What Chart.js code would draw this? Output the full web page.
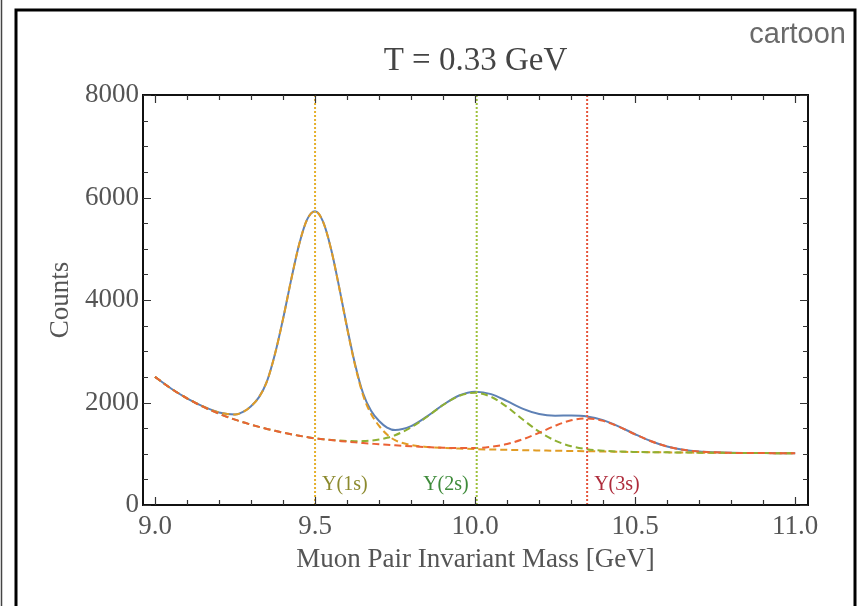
<!DOCTYPE html>
<html>
<head>
<meta charset="utf-8">
<script src="https://cdn.jsdelivr.net/npm/chart.js@4.4.1/dist/chart.umd.min.js"></script>
<style>
  html, body { margin: 0; padding: 0; background: #fff; }
  #wrap { width: 860px; height: 606px; }
</style>
</head>
<body>
<div id="wrap"><canvas id="c" width="860" height="606"></canvas></div>
<script>
// ---- data ----
const massX = [9.00,9.05,9.10,9.15,9.20,9.25,9.275,9.30,9.325,9.35,9.375,9.40,9.425,9.45,9.475,9.50,9.525,9.55,9.575,9.60,9.625,9.65,9.675,9.70,9.725,9.75,9.80,9.85,9.90,9.95,10.00,10.05,10.10,10.15,10.20,10.25,10.30,10.35,10.40,10.45,10.50,10.55,10.60,10.65,10.70,10.75,10.80,10.85,10.90,10.95,11.00];

const totalCounts = [2500,2274,2082,1923,1805,1765,1816,1928,2105,2417,2950,3630,4383,5078,5568,5731,5528,4996,4261,3467,2748,2180,1838,1638,1512,1462,1538,1728,1953,2137,2212,2164,2027,1877,1776,1743,1745,1728,1656,1529,1380,1244,1142,1078,1043,1027,1018,1015,1013,1011,1010];

const ups1Counts = [2500,2274,2082,1923,1805,1765,1816,1928,2105,2417,2950,3630,4383,5078,5568,5730,5526,4992,4253,3453,2725,2142,1777,1545,1374,1264,1171,1134,1115,1102,1090,1083,1076,1070,1064,1059,1054,1050,1044,1039,1034,1030,1027,1024,1021,1019,1016,1014,1013,1011,1010];

const ups2Counts = [2500,2274,2082,1918,1780,1665,1616,1568,1525,1484,1447,1413,1381,1352,1325,1301,1285,1270,1259,1250,1245,1247,1258,1278,1312,1362,1513,1722,1951,2129,2190,2110,1912,1663,1431,1257,1147,1088,1058,1043,1035,1030,1027,1024,1021,1019,1016,1014,1013,1011,1010];

const ups3Counts = [2500,2274,2082,1918,1780,1665,1616,1568,1525,1484,1447,1413,1381,1352,1325,1300,1283,1266,1251,1236,1222,1209,1197,1185,1174,1164,1146,1130,1117,1110,1112,1137,1191,1284,1409,1545,1652,1690,1642,1525,1379,1244,1142,1078,1043,1027,1018,1015,1013,1011,1010];

const stateMasses = [9.50, 10.005, 10.35];
const stateLabels = ['Υ(1s)', 'Υ(2s)', 'Υ(3s)'];
const xTickValues = [9.0, 9.5, 10.0, 10.5, 11.0];
const yTickValues = [0, 2000, 4000, 6000, 8000];

// ---- styling ----
const BLUE = '#5E81B5', ORANGE = '#E19C24', GREEN = '#8FB032', RED = '#EB6235';
const lineColors = ['#E5B02C', '#9DC03A', '#E5533A'];
const labelColors = ['#8C8A2E', '#3E8B3A', '#AE2B3B'];
const SERIF = '"Liberation Serif", "DejaVu Serif", serif';

const pts = ys => massX.map((x, i) => ({ x: x, y: ys[i] }));

const datasets = [];
stateMasses.forEach((m, i) => {
  datasets.push({
    label: stateLabels[i] + ' line',
    data: [{ x: m, y: 0 }, { x: m, y: 8000 }],
    borderColor: lineColors[i], borderWidth: 2, borderDash: [2, 2],
    pointRadius: 0, showLine: true, fill: false
  });
});
const curve = (label, ys, color, dash) => ({
  label: label, data: pts(ys), borderColor: color, borderWidth: 2,
  borderDash: dash, pointRadius: 0, showLine: true, fill: false,
  cubicInterpolationMode: 'monotone'
});
datasets.push(curve('Υ(3s) + background', ups3Counts, RED, [7, 4]));
datasets.push(curve('Υ(2s) + background', ups2Counts, GREEN, [7, 4]));
datasets.push(curve('Υ(1s) + background', ups1Counts, ORANGE, [7, 4]));
datasets.push(curve('Total', totalCounts, BLUE, []));

const decor = {
  id: 'decor',
  beforeDraw(chart) {
    const ctx = chart.ctx;
    ctx.save();
    ctx.fillStyle = '#fff';
    ctx.fillRect(0, 0, chart.width, chart.height);
    ctx.strokeStyle = '#000';
    ctx.lineWidth = 3;
    ctx.beginPath();
    ctx.moveTo(16, 606); ctx.lineTo(16, 10); ctx.lineTo(855, 10); ctx.lineTo(855, 606);
    ctx.stroke();
    ctx.strokeStyle = '#444';
    ctx.lineWidth = 1.5;
    ctx.beginPath(); ctx.moveTo(1.5, 0); ctx.lineTo(1.5, 606); ctx.stroke();
    ctx.restore();
  },
  afterDraw(chart) {
    const { ctx, chartArea: a, scales } = chart;
    const x = scales.x, y = scales.y;
    ctx.save();
    // frame
    ctx.strokeStyle = '#111';
    ctx.lineWidth = 2;
    ctx.strokeRect(a.left, a.top, a.right - a.left, a.bottom - a.top);
    // inward ticks
    ctx.lineWidth = 1.2;
    ctx.strokeStyle = '#333';
    ctx.beginPath();
    for (let i = 0; i <= 20; i++) {
      const v = 9 + i * 0.1;
      const px = Math.round(x.getPixelForValue(v)) + 0.5;
      const len = (i % 5 === 0) ? 8 : 5;
      ctx.moveTo(px, a.bottom); ctx.lineTo(px, a.bottom - len);
      ctx.moveTo(px, a.top); ctx.lineTo(px, a.top + len);
    }
    for (let i = 0; i <= 16; i++) {
      const v = i * 500;
      const py = Math.round(y.getPixelForValue(v)) + 0.5;
      const len = (i % 4 === 0) ? 8 : 5;
      ctx.moveTo(a.left, py); ctx.lineTo(a.left + len, py);
      ctx.moveTo(a.right, py); ctx.lineTo(a.right - len, py);
    }
    ctx.stroke();

    // state labels
    ctx.font = '20px ' + SERIF;
    ctx.textBaseline = 'alphabetic';
    stateMasses.forEach((m, i) => {
      const px = x.getPixelForValue(m);
      const py = y.getPixelForValue(300);
      ctx.fillStyle = labelColors[i];
      if (i === 1) { ctx.textAlign = 'right'; ctx.fillText(stateLabels[i], px - 8, py); }
      else { ctx.textAlign = 'left'; ctx.fillText(stateLabels[i], px + 7, py); }
    });

    // title
    ctx.fillStyle = '#444';
    ctx.font = '33px ' + SERIF;
    ctx.textAlign = 'center';
    ctx.fillText('T = 0.33 GeV', (a.left + a.right) / 2, 70);

    // cartoon
    ctx.fillStyle = '#6a6a6a';
    ctx.font = '29px "Liberation Sans", Arial, sans-serif';
    ctx.textAlign = 'right';
    ctx.fillText('cartoon', 846, 43);

    // axis titles
    ctx.fillStyle = '#555';
    ctx.font = '27px ' + SERIF;
    ctx.textAlign = 'center';
    ctx.fillText('Muon Pair Invariant Mass [GeV]', (a.left + a.right) / 2, 567);
    ctx.translate(68, (a.top + a.bottom) / 2);
    ctx.rotate(-Math.PI / 2);
    ctx.fillText('Counts', 0, 0);
    ctx.restore();
  }
};

new Chart(document.getElementById('c'), {
  type: 'scatter',
  data: { datasets: datasets },
  options: {
    responsive: false,
    devicePixelRatio: 1,
    animation: false,
    layout: { padding: { top: 95, right: 52, left: 0, bottom: 0 } },
    plugins: { legend: { display: false }, tooltip: { enabled: false }, title: { display: false } },
    scales: {
      x: {
        type: 'linear', min: 8.9625, max: 11.04,
        grid: { display: false, drawTicks: false }, border: { display: false },
        afterBuildTicks: s => { s.ticks = xTickValues.map(v => ({ value: v })); },
        afterFit: s => { s.height = 101; },
        ticks: {
          color: '#555', padding: 6, maxRotation: 0, autoSkip: false,
          font: { family: SERIF, size: 27 },
          callback: v => Number(v).toFixed(1)
        }
      },
      y: {
        type: 'linear', min: 0, max: 8000,
        grid: { display: false, drawTicks: false }, border: { display: false },
        afterBuildTicks: s => { s.ticks = yTickValues.map(v => ({ value: v })); },
        afterFit: s => { s.width = 143; },
        ticks: {
          color: '#555', padding: 4, autoSkip: false,
          font: { family: SERIF, size: 27 },
          callback: v => String(v)
        }
      }
    }
  },
  plugins: [decor]
});
</script>
</body>
</html>
